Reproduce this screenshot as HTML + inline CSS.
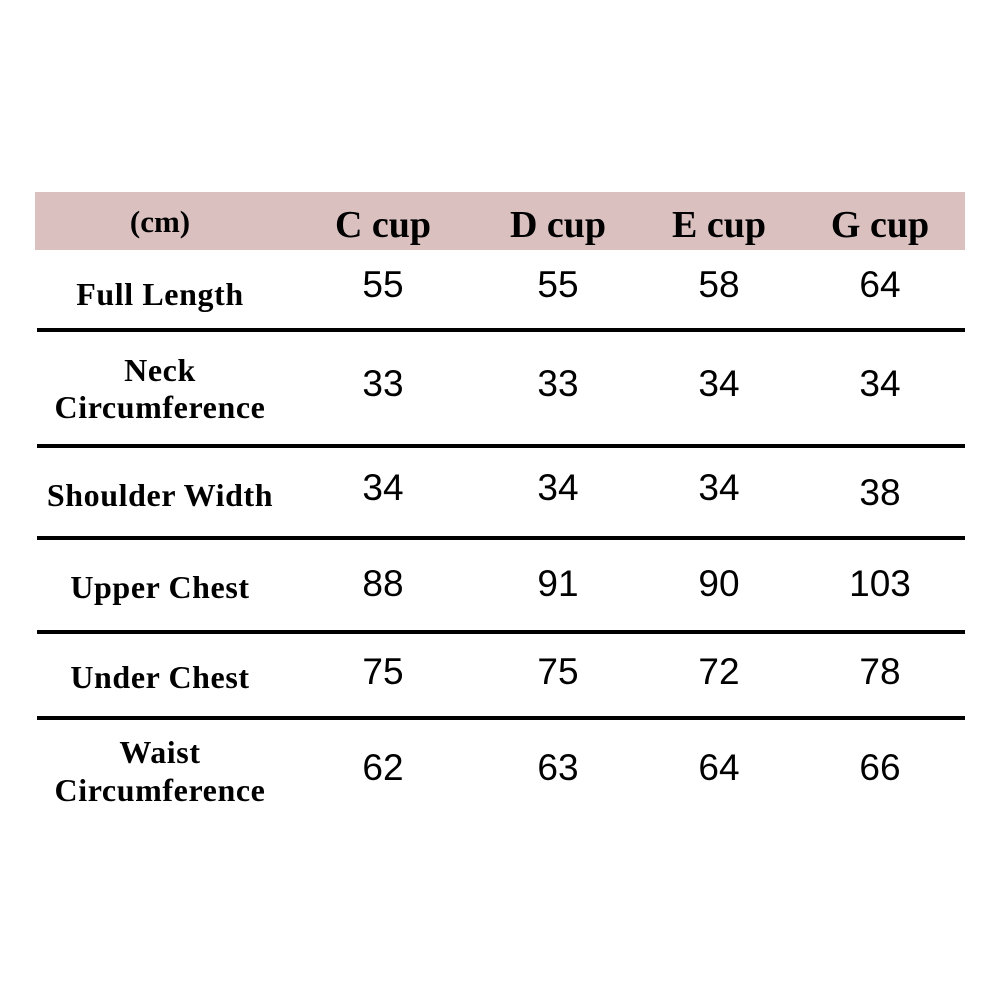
<!DOCTYPE html>
<html><head><style>html,body{margin:0;background:#fff}</style></head><body>
<svg width="1000" height="1000" xmlns="http://www.w3.org/2000/svg">
<rect x="35" y="192" width="930" height="58" fill="#dbc0c0"/>
<g stroke="#000" stroke-width="4">
<line x1="37" y1="330" x2="965" y2="330"/>
<line x1="37" y1="446" x2="965" y2="446"/>
<line x1="37" y1="538" x2="965" y2="538"/>
<line x1="37" y1="632" x2="965" y2="632"/>
<line x1="37" y1="718" x2="965" y2="718"/>
</g>
<g font-family="'Liberation Serif', serif" font-weight="bold" text-anchor="middle" fill="#000">
<text x="160" y="232" font-size="31">(cm)</text>
<text x="383" y="237" font-size="38">C cup</text>
<text x="558" y="237" font-size="38">D cup</text>
<text x="719" y="237" font-size="38">E cup</text>
<text x="880" y="237" font-size="38">G cup</text>
<g font-size="32" letter-spacing="0.6">
<text x="160" y="305">Full Length</text>
<text x="160" y="381">Neck</text>
<text x="160" y="418">Circumference</text>
<text x="160" y="506">Shoulder Width</text>
<text x="160" y="598">Upper Chest</text>
<text x="160" y="688">Under Chest</text>
<text x="160" y="763">Waist</text>
<text x="160" y="801">Circumference</text>
</g>
</g>
<g font-family="'Liberation Sans', sans-serif" font-size="37" text-anchor="middle" fill="#000">
<text x="383" y="297">55</text><text x="558" y="297">55</text><text x="719" y="297">58</text><text x="880" y="297">64</text>
<text x="383" y="396">33</text><text x="558" y="396">33</text><text x="719" y="396">34</text><text x="880" y="396">34</text>
<text x="383" y="500">34</text><text x="558" y="500">34</text><text x="719" y="500">34</text><text x="880" y="505">38</text>
<text x="383" y="596">88</text><text x="558" y="596">91</text><text x="719" y="596">90</text><text x="880" y="596">103</text>
<text x="383" y="684">75</text><text x="558" y="684">75</text><text x="719" y="684">72</text><text x="880" y="684">78</text>
<text x="383" y="780">62</text><text x="558" y="780">63</text><text x="719" y="780">64</text><text x="880" y="780">66</text>
</g>
</svg>
</body></html>
